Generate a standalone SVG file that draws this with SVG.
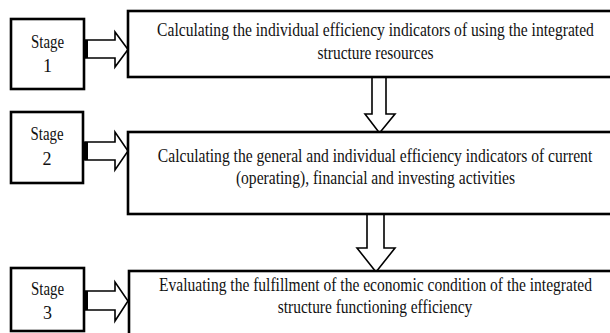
<svg xmlns="http://www.w3.org/2000/svg" width="610" height="333" viewBox="0 0 610 333">
  <style>
    .box { fill: #ffffff; stroke: #000000; stroke-width: 2.6; }
    .arrow { fill: #ffffff; stroke: #000000; stroke-width: 1.6; stroke-linejoin: miter; }
    .cap { fill: #000000; }
    text { font-family: 'Liberation Serif', 'Times New Roman', Tinos, 'DejaVu Serif', serif; fill: #111111; text-anchor: middle; }
    .stage { font-size: 18px; }
    .step { font-size: 18px; }
  </style>
  <rect width="610" height="333" fill="#ffffff"/>

  <!-- connectors: block arrows from stage labels and between steps -->
  <g id="connectors">
    <polygon class="arrow" points="85,40 115,40 115,32 128,49.5 115,67 115,58 85,58"/>
    <rect class="cap" x="84" y="40" width="4" height="18"/>
    <polygon class="arrow" points="85,142 115,142 115,132 128,151 115,170 115,160 85,160"/>
    <rect class="cap" x="84" y="142" width="4" height="18"/>
    <polygon class="arrow" points="85,291 115,291 115,282 128,301 115,321 115,310 85,310"/>
    <rect class="cap" x="84" y="291" width="4" height="19"/>
    <polygon class="arrow" points="372,77 386,77 386,114 395,114 379.5,133 365,114 372,114"/>
    <polygon class="arrow" points="367,214 384,214 384,248 395,248 376,272 357,248 367,248"/>
  </g>

  <g id="stage1">
    <rect class="box" x="11" y="19" width="73" height="70"/>
    <text class="stage" x="47.5" y="48" textLength="33" lengthAdjust="spacingAndGlyphs">Stage</text>
    <text class="stage" x="47.5" y="72">1</text>
  </g>
  <g id="stage2">
    <rect class="box" x="11" y="112" width="72" height="71"/>
    <text class="stage" x="47" y="140" textLength="33" lengthAdjust="spacingAndGlyphs">Stage</text>
    <text class="stage" x="47" y="165">2</text>
  </g>
  <g id="stage3">
    <rect class="box" x="11" y="268" width="73" height="63"/>
    <text class="stage" x="47.5" y="295" textLength="33" lengthAdjust="spacingAndGlyphs">Stage</text>
    <text class="stage" x="47.5" y="319">3</text>
  </g>

  <!-- step texts are set in a narrowed serif: horizontal scale 0.8 -->
  <g id="step1">
    <rect class="box" x="128" y="11" width="500" height="66"/>
    <g transform="translate(375.5,0) scale(0.8,1)">
      <text class="step" x="0" y="36" textLength="546" lengthAdjust="spacingAndGlyphs">Calculating the individual efficiency indicators of using the integrated</text>
      <text class="step" x="0" y="59" textLength="145" lengthAdjust="spacingAndGlyphs">structure resources</text>
    </g>
  </g>
  <g id="step2">
    <rect class="box" x="128" y="132" width="500" height="82"/>
    <g transform="translate(375,0) scale(0.8,1)">
      <text class="step" x="0" y="162" textLength="543" lengthAdjust="spacingAndGlyphs">Calculating the general and individual efficiency indicators of current</text>
      <text class="step" x="0.6" y="184" textLength="349" lengthAdjust="spacingAndGlyphs">(operating), financial and investing activities</text>
    </g>
  </g>
  <g id="step3">
    <rect class="box" x="129" y="271" width="500" height="80"/>
    <g transform="translate(375.5,0) scale(0.8,1)">
      <text class="step" x="0" y="291" textLength="541" lengthAdjust="spacingAndGlyphs">Evaluating the fulfillment of the economic condition of the integrated</text>
      <text class="step" x="-0.6" y="313" textLength="243" lengthAdjust="spacingAndGlyphs">structure functioning efficiency</text>
    </g>
  </g>
</svg>
